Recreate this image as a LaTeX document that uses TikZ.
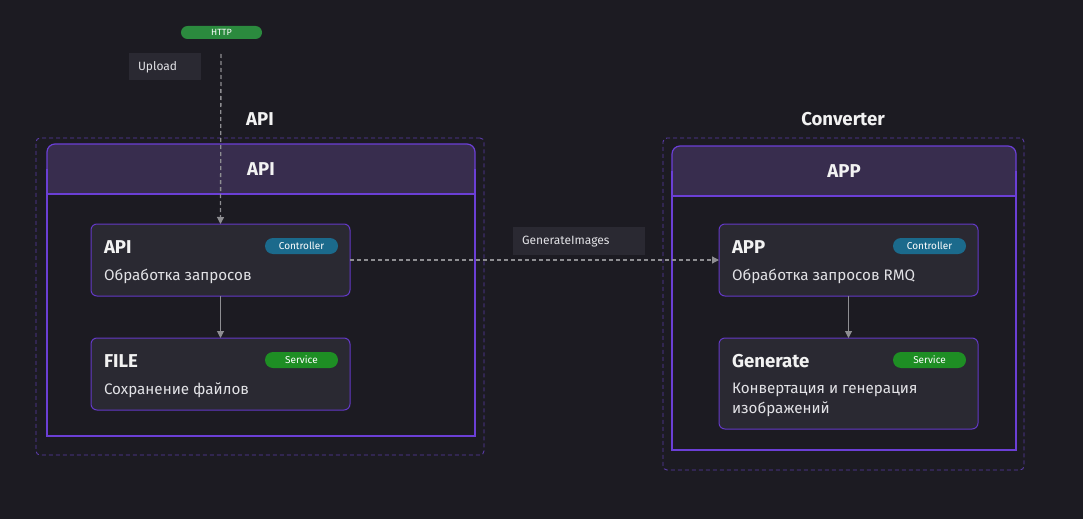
\documentclass[tikz,border=0pt]{standalone}
\usepackage{fontspec}
\setmainfont{Fira Sans}
\usetikzlibrary{arrows.meta,calc}
\definecolor{bg}{HTML}{1C1B22}
\definecolor{grpline}{HTML}{5A3BA6}
\definecolor{inline}{HTML}{6B3FD6}
\definecolor{headfill}{HTML}{382D4E}
\definecolor{compfill}{HTML}{2A2932}
\definecolor{compline}{HTML}{6339C6}
\definecolor{conn}{HTML}{8E8E92}
\definecolor{ctrl}{HTML}{1B6A8C}
\definecolor{serv}{HTML}{1E8E24}
\definecolor{httpg}{HTML}{2B8A3E}
\definecolor{txt}{HTML}{F2F2F2}
\definecolor{dtxt}{HTML}{E2E2E6}
\begin{document}
\begin{tikzpicture}[x=1pt,y=-1pt,
  every node/.style={inner sep=0pt,outer sep=0pt},
  group/.style={draw=grpline,line width=0.9pt,dash pattern=on 4pt off 3pt,rounded corners=4pt,rectangle},
  container/.style={rectangle},
  cborder/.style={draw=inline,line width=1.2pt},
  header/.style={fill=headfill,draw=inline,line width=1.2pt,rounded corners=8pt,rectangle,
     text=txt,font=\fontsize{18.6}{20}\selectfont\bfseries},
  comp/.style={rectangle,rounded corners=6pt,fill=compfill,draw=compline,line width=1pt,minimum width=259pt},
  ctitle/.style={anchor=west,text=txt,font=\fontsize{18.6}{20}\selectfont\bfseries},
  cdesc/.style={anchor=west,text=dtxt,font=\fontsize{15.2}{20}\selectfont,align=left},
  badge/.style={rectangle,rounded corners=8pt,minimum width=73pt,minimum height=16pt,text=white,font=\fontsize{10}{12}\selectfont},
  lbl/.style={rectangle,fill=compfill,text=dtxt,font=\fontsize{12}{14}\selectfont},
  gtitle/.style={text=txt,font=\fontsize{18.6}{20}\selectfont\bfseries},
  conline/.style={draw=conn,line width=1pt,-{Triangle[length=7pt,width=7pt]}},
  dline/.style={conline,line width=1.3pt,dash pattern=on 4pt off 3pt}
]
\fill[bg] (0,0) rectangle (1083,519);
\useasboundingbox (0,0) rectangle (1083,519);

% top HTTP
\node[rectangle,fill=httpg,rounded corners=6.5pt,minimum width=81pt,minimum height=13pt,text=white,font=\fontsize{9}{10}\selectfont] (http) at (221.5,32.5) {HTTP};
\node[lbl,minimum width=72pt,minimum height=27pt] (upload) at (165,66.5) {};
\node[anchor=west,text=dtxt,font=\fontsize{12}{14}\selectfont] (uploadt) at (138,67.5) {Upload};
\coordinate (httpstart) at (221,54);

% group titles
\node[gtitle] (tapi) at (260,119) {API};
\node[gtitle] (tconv) at (843,119) {Converter};

% groups
\node[group,minimum width=448pt,minimum height=317pt] (gapi) at (260,296.5) {};
\node[group,minimum width=361pt,minimum height=332pt] (gconv) at (843.5,304) {};

% containers
\node[container,minimum width=428pt,minimum height=292pt] (capi) at (261,290) {};
\node[header,minimum width=428pt,minimum height=50pt] (hapi) at (261,169) {};
\fill[headfill] (47.6,180) rectangle (474.4,193.4);
\draw[cborder] (capi.north west |- hapi.center) -- (capi.south west) -- (capi.south east) -- (capi.north east |- hapi.center);
\draw[cborder] (47,194) -- (475,194);
\node[gtitle] (hapit) at (261,169) {API};

\node[container,minimum width=344pt,minimum height=304pt] (capp) at (844,298) {};
\node[header,minimum width=344pt,minimum height=50pt] (happ) at (844,171) {};
\fill[headfill] (672.6,182) rectangle (1015.4,195.4);
\draw[cborder] (capp.north west |- happ.center) -- (capp.south west) -- (capp.south east) -- (capp.north east |- happ.center);
\draw[cborder] (672,196) -- (1016,196);
\node[gtitle] (happt) at (844,171) {APP};

% components
\node[comp,minimum height=72pt] (api) at (220.5,260) {};
\node[ctitle] (apit) at ($(api.north west)+(13,23)$) {API};
\node[badge,fill=ctrl] (apib) at ($(api.north east)+(-48.5,22)$) {Controller};
\node[cdesc] (apid) at ($(api.north west)+(13,52)$) {Обработка запросов};

\node[comp,minimum height=72pt] (file) at (220.5,374) {};
\node[ctitle] (filet) at ($(file.north west)+(13,23)$) {FILE};
\node[badge,fill=serv] (fileb) at ($(file.north east)+(-48.5,22)$) {Service};
\node[cdesc] (filed) at ($(file.north west)+(13,52)$) {Сохранение файлов};

\node[comp,minimum height=72pt] (app) at (848.5,260) {};
\node[ctitle] (appt) at ($(app.north west)+(13,23)$) {APP};
\node[badge,fill=ctrl] (appb) at ($(app.north east)+(-48.5,22)$) {Controller};
\node[cdesc] (appd) at ($(app.north west)+(13,52)$) {Обработка запросов RMQ};

\node[comp,minimum height=91pt] (gen) at (848.5,383.5) {};
\node[ctitle] (gent) at ($(gen.north west)+(13,23)$) {Generate};
\node[badge,fill=serv] (genb) at ($(gen.north east)+(-48.5,22)$) {Service};
\node[cdesc,anchor=north west] (gend) at ($(gen.north west)+(13,45)$) {Конвертация и генерация\\изображений};

% connectors
\draw[dline] (httpstart) -- (api.north);
\draw[conline] (api.south) -- (file.north);
\draw[dline] (api.east) -- (app.west);
\draw[conline] (app.south) -- (gen.north);
\node[lbl,minimum width=132pt,minimum height=28pt] (genimg) at (579,241) {};
\node[anchor=west,text=dtxt,font=\fontsize{12}{14}\selectfont] (genimgt) at (522,242) {GenerateImages};
\end{tikzpicture}
\end{document}
